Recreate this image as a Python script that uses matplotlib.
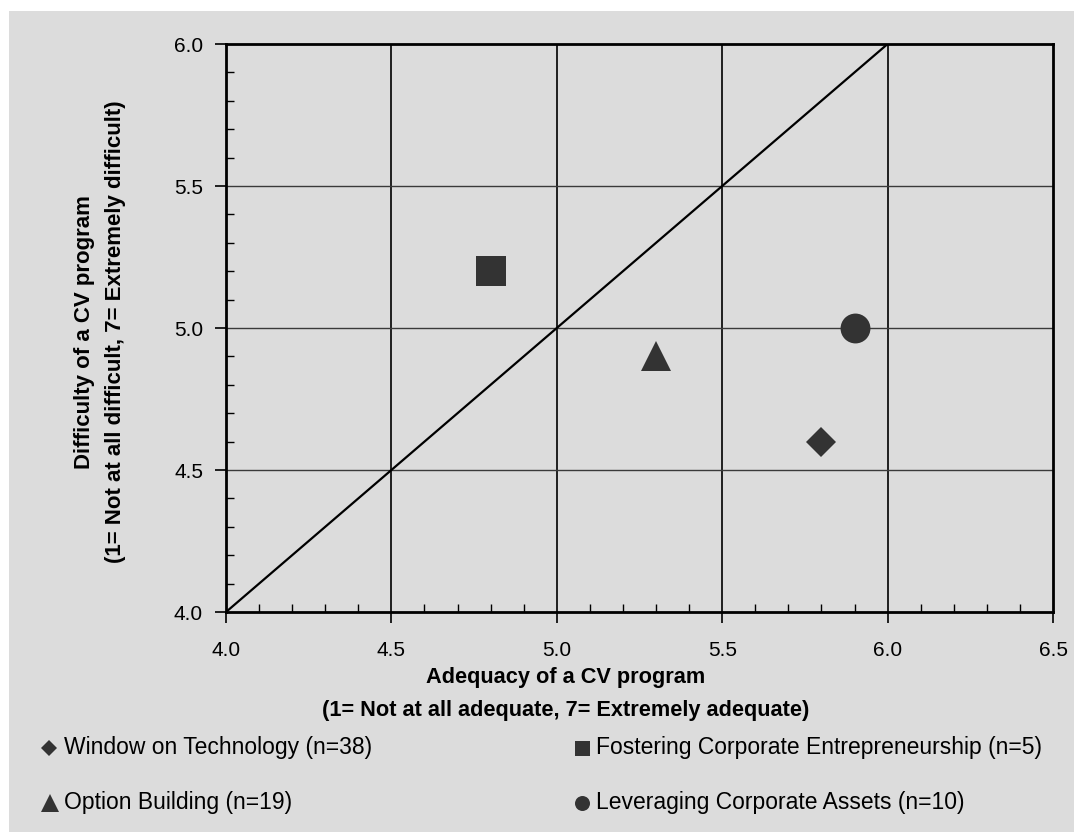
import matplotlib
matplotlib.use('Agg')
import matplotlib.pyplot as plt
from matplotlib.patches import Rectangle
from matplotlib.lines import Line2D
from matplotlib.ticker import MultipleLocator

plt.rcParams['font.family'] = ['Liberation Sans', 'DejaVu Sans']

# CV program types: adequacy (x) vs difficulty (y)
labels = ['Window on Technology (n=38)', 'Option Building (n=19)',
          'Fostering Corporate Entrepreneurship (n=5)', 'Leveraging Corporate Assets (n=10)']
adequacy = [5.8, 5.3, 4.8, 5.9]
difficulty = [4.6, 4.9, 5.2, 5.0]
markers = ['D', '^', 's', 'o']
sizes = [15.5, 22, 21, 21.5]
legend_sizes = [8.2, 13, 10.8, 10.8]

xticks = [4.0, 4.5, 5.0, 5.5, 6.0, 6.5]
yticks = [4.0, 4.5, 5.0, 5.5, 6.0]

bg = '#dcdcdc'
mark_color = '#333333'
W, H = 1074, 832

fig = plt.figure(figsize=(W / 100, H / 100), dpi=100)
fig.patch.set_facecolor('white')
fig.patches.append(Rectangle((9 / W, 0), 1, 1 - 11 / H, transform=fig.transFigure,
                             facecolor=bg, edgecolor='none', zorder=-10))

ax = fig.add_axes([226 / W, 1 - 612 / H, (1053 - 226) / W, (612 - 44) / H])
ax.set_facecolor(bg)
ax.set_xlim(4.0, 6.5)
ax.set_ylim(4.0, 6.0)

# grid lines
for x in xticks[1:-1]:
    ax.axvline(x, color='black', lw=1.2, zorder=1)
for y in yticks[1:-1]:
    ax.axhline(y, color='#3a3a3a', lw=1.0, zorder=1)

# equal adequacy/difficulty line
ax.plot([4.0, 6.0], [4.0, 6.0], color='black', lw=1.6, zorder=2)

for xv, yv, m, s in zip(adequacy, difficulty, markers, sizes):
    ax.plot(xv, yv, linestyle='none', marker=m, markersize=s, color=mark_color,
            markeredgewidth=0, zorder=3)

ax.set_xticks(xticks)
ax.set_yticks(yticks)
ax.set_xticklabels([f'{v:.1f}' for v in xticks])
ax.set_yticklabels([f'{v:.1f}' for v in yticks])
ax.xaxis.set_minor_locator(MultipleLocator(0.1))
ax.yaxis.set_minor_locator(MultipleLocator(0.1))
ax.tick_params(which='major', direction='out', length=8, width=1.2, labelsize=15)
ax.tick_params(axis='x', which='major', pad=13)
ax.tick_params(axis='y', which='major', pad=8.5)
ax.tick_params(which='minor', direction='in', length=6, width=1.0)

for sp in ax.spines.values():
    sp.set_linewidth(2)
    sp.set_color('black')

ax.set_xlabel('Adequacy of a CV program\n(1= Not at all adequate, 7= Extremely adequate)',
              fontsize=15.7, fontweight='bold', linespacing=1.75)
ax.xaxis.set_label_coords((566 - 226) / 827, -(721 - 612) / 568)
ax.xaxis.label.set_va('bottom')
ax.set_ylabel('Difficulty of a CV program\n(1= Not at all difficult, 7= Extremely difficult)',
              fontsize=16, fontweight='bold', linespacing=1.6)
ax.yaxis.set_label_coords(-(226 - 126) / 827, (612 - 332) / 568)

# legend rows drawn as marker + text
legend_pos = [(49, 64, 754), (50, 64, 809), (582, 596, 754), (582, 596, 809)]
for (mx, tx, base), m, ls, lab in zip(legend_pos, markers, legend_sizes, labels):
    fig.add_artist(Line2D([mx / W], [1 - (base - 6) / H], transform=fig.transFigure,
                          linestyle='none', marker=m, markersize=ls, color=mark_color,
                          markeredgewidth=0))
    fig.text(tx / W, 1 - base / H, lab, fontsize=16.5, ha='left', va='baseline')

fig.savefig('out.png', dpi=100, facecolor=fig.get_facecolor())
